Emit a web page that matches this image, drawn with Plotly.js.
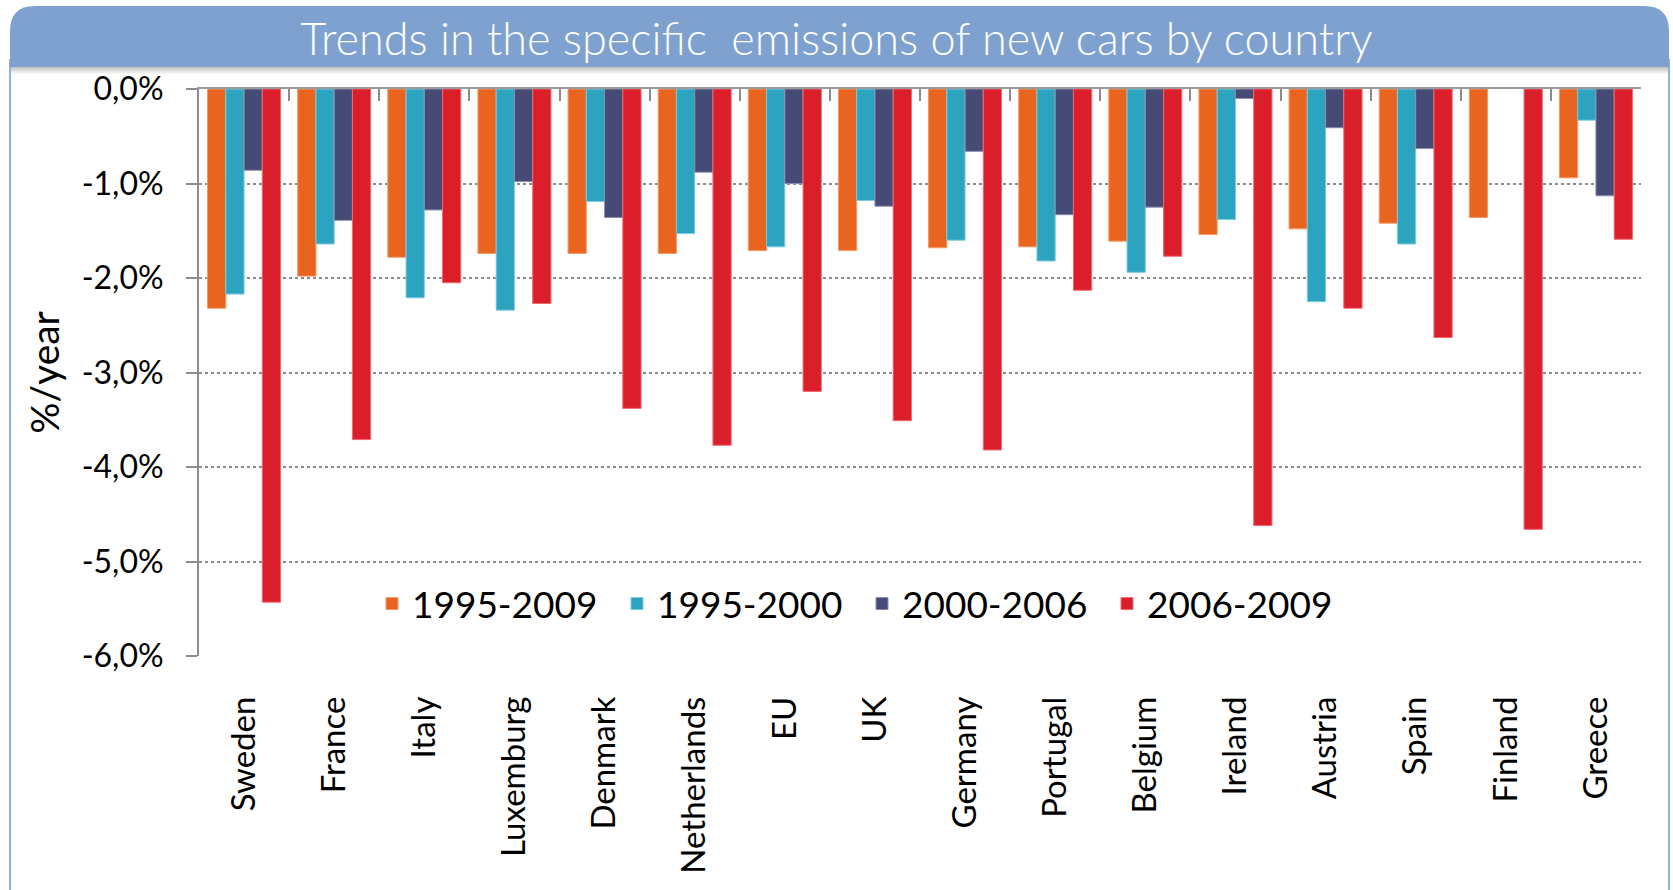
<!DOCTYPE html>
<html>
<head>
<meta charset="utf-8">
<script src="https://cdn.plot.ly/plotly-3.0.1.min.js"></script>
<style>
html, body { margin: 0; padding: 0; background: #ffffff; }
#chart { width: 1673px; height: 890px; }
</style>
</head>
<body>
<div id="chart"></div>
<script>
// ---- data (percent per year) ----
const countries = ["Sweden", "France", "Italy", "Luxemburg", "Denmark", "Netherlands", "EU", "UK",
                   "Germany", "Portugal", "Belgium", "Ireland", "Austria", "Spain", "Finland", "Greece"];
const seriesNames = ["1995-2009", "1995-2000", "2000-2006", "2006-2009"];
const s1995_2009 = [-2.32, -1.98, -1.78, -1.74, -1.74, -1.74, -1.71, -1.71, -1.68, -1.67, -1.61, -1.54, -1.48, -1.42, -1.36, -0.94];
const s1995_2000 = [-2.17, -1.64, -2.21, -2.34, -1.19, -1.53, -1.67, -1.18, -1.60, -1.82, -1.94, -1.38, -2.25, -1.64, null, -0.33];
const s2000_2006 = [-0.86, -1.39, -1.28, -0.98, -1.36, -0.88, -1.00, -1.24, -0.66, -1.33, -1.25, -0.10, -0.41, -0.63, null, -1.13];
const s2006_2009 = [-5.43, -3.71, -2.05, -2.27, -3.38, -3.77, -3.20, -3.51, -3.82, -2.13, -1.77, -4.62, -2.32, -2.63, -4.66, -1.59];
const yTickVals = [0, -1, -2, -3, -4, -5, -6];
const yTickText = ["0,0%", "-1,0%", "-2,0%", "-3,0%", "-4,0%", "-5,0%", "-6,0%"];
const chartTitle = "Trends in the specific\u00a0 emissions of new cars by country";
const yTitle = "%/year";

// ---- styling ----
const colors = ["#E9651F", "#2CA3BF", "#464B76", "#DB1F2A"];
const edgeColors = ["#F39A66", "#7CCBDD", "#8A8DAE", "#EE6A72"];
const FONT = 'Lato, "Open Sans", sans-serif';

const W = 1673, H = 890;
const M = { l: 199, r: 32, t: 89, b: 234 };
const PW = W - M.l - M.r, PH = H - M.t - M.b;
const X = px => (px - M.l) / PW;
const Y = py => (H - M.b - py) / PH;

const allSeries = [s1995_2009, s1995_2000, s2000_2006, s2006_2009];
const traces = allSeries.map((vals, i) => ({
  type: "bar",
  name: seriesNames[i],
  x: countries,
  y: vals,
  marker: { color: colors[i], line: { color: edgeColors[i], width: 1 } },
  hoverinfo: "x+y+name"
}));
// carrier for the boundary tick axis along the zero line
traces.push({ type: "scatter", x: [], y: [], xaxis: "x2", yaxis: "y", showlegend: false, hoverinfo: "skip" });

const boundaries = countries.map((c, i) => i - 0.5).concat([countries.length - 0.5]);

// header path (rounded top corners)
const hx0 = 10, hx1 = 1669, hy0 = 6, hy1 = 67, rad = 25;
const headerPath =
  `M ${X(hx0)},${Y(hy1)} L ${X(hx0)},${Y(hy0 + rad)} Q ${X(hx0)},${Y(hy0)} ${X(hx0 + rad)},${Y(hy0)} ` +
  `L ${X(hx1 - rad)},${Y(hy0)} Q ${X(hx1)},${Y(hy0)} ${X(hx1)},${Y(hy0 + rad)} L ${X(hx1)},${Y(hy1)} Z`;

const shapes = [
  { type: "rect", xref: "paper", yref: "paper", x0: X(hx0), x1: X(hx1), y0: Y(60), y1: Y(900),
    line: { color: "#8FB1DF", width: 2 }, fillcolor: "rgba(0,0,0,0)", layer: "below" }
];
for (let k = 0; k < 7; k++) {
  shapes.push({ type: "rect", xref: "paper", yref: "paper", x0: X(hx0 + 1), x1: X(hx1 - 1),
    y0: Y(hy1 + k), y1: Y(hy1 + k + 1), line: { width: 0 },
    fillcolor: `rgba(90,90,90,${(0.35 * (1 - k / 7)).toFixed(3)})`, layer: "below" });
}
shapes.push({ type: "path", xref: "paper", yref: "paper", path: headerPath,
  fillcolor: "#7EA1D0", line: { width: 0 }, layer: "below" });

const layout = {
  width: W, height: H,
  margin: M,
  paper_bgcolor: "#ffffff",
  plot_bgcolor: "rgba(0,0,0,0)",
  font: { family: FONT, color: "#000000" },
  title: {
    text: chartTitle,
    font: { family: FONT, size: 45, color: "#ffffff", weight: 300 },
    x: 0.5, xref: "container", xanchor: "center",
    y: 1 - 39 / H, yref: "container", yanchor: "middle"
  },
  barmode: "group",
  bargap: 0.19,
  bargroupgap: 0,
  showlegend: true,
  legend: {
    orientation: "h",
    x: X(372), xanchor: "left",
    y: Y(604), yanchor: "middle",
    bgcolor: "rgba(0,0,0,0)",
    font: { family: FONT, size: 37, color: "#000000" },
    entrywidth: 200,
    traceorder: "normal"
  },
  xaxis: {
    type: "category",
    range: [-0.5, countries.length - 0.5],
    tickangle: -90,
    tickfont: { family: FONT, size: 33, color: "#000000" },
    ticks: "",
    ticklabelstandoff: 33,
    showgrid: false, showline: false, zeroline: false,
    automargin: false, fixedrange: true
  },
  xaxis2: {
    overlaying: "x", side: "top", anchor: "y",
    range: [-0.5, countries.length - 0.5],
    tickvals: boundaries,
    ticks: "inside", ticklen: 12, tickwidth: 2, tickcolor: "#8C8C8C",
    showticklabels: false, showgrid: false, zeroline: false,
    showline: true, linecolor: "#9A9A9A", linewidth: 2,
    automargin: false, fixedrange: true
  },
  yaxis: {
    range: [-6, 0],
    tickvals: yTickVals, ticktext: yTickText,
    tickfont: { family: FONT, size: 32, color: "#000000" },
    ticks: "outside", ticklen: 11, tickwidth: 2, tickcolor: "#8C8C8C",
    ticklabelstandoff: 16,
    showline: true, linecolor: "#8C8C8C", linewidth: 2,
    showgrid: true, gridcolor: "#8C8C8C", gridwidth: 2, griddash: "dot",
    zeroline: false,
    title: { text: yTitle, font: { family: FONT, size: 39, color: "#000000" }, standoff: 10 },
    automargin: false, fixedrange: true
  },
  shapes: shapes
};

Plotly.newPlot("chart", traces, layout, { displayModeBar: false, staticPlot: true });
</script>
</body>
</html>
